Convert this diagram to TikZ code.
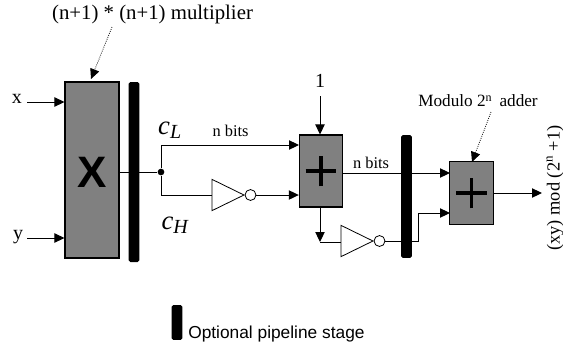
\documentclass[tikz,border=0pt]{standalone}
\usepackage{xcolor}
\usepackage{fontspec}
\setmainfont{Liberation Serif}
\setsansfont{Liberation Sans}
\usepackage{tikz}
\usetikzlibrary{arrows.meta,shapes.geometric}
\definecolor{BlockGray}{HTML}{808080}
\tikzset{
  block/.style={draw=black,fill=BlockGray,line width=0.8pt,inner sep=0pt},
  pipebar/.style={fill=black,rounded corners=1.2pt,inner sep=0pt,minimum width=8pt},
  wire/.style={line width=0.75pt,-{Triangle[length=7.5pt,width=7pt]}},
  plainwire/.style={line width=0.75pt},
  plusbar/.style={line width=2.6pt},
  noteline/.style={densely dotted,line width=0.6pt,-{Triangle[length=7.5pt,width=7pt]}},
  invgate/.style={draw=black,fill=white,line width=0.6pt,isosceles triangle,isosceles triangle stretches=true,minimum width=23.5pt,minimum height=24pt,inner sep=0pt,anchor=apex},
  invbubble/.style={draw=black,fill=white,line width=0.6pt,circle,minimum size=8.2pt,inner sep=0pt},
  junction/.style={fill=black,circle,minimum size=5pt,inner sep=0pt},
  lbl/.style={inner sep=0pt}
}
\begin{document}
\begin{tikzpicture}[x=0.75pt,y=-0.75pt]
\path[use as bounding box] (0,0) rectangle (563,354);
% blocks
\node[block,minimum width=40.5pt,minimum height=132pt] (mult) at (92,170) {};
\node[block,minimum width=32.5pt,minimum height=54pt] (addA) at (321,171) {};
\node[block,minimum width=32.5pt,minimum height=47pt] (addB) at (471.5,193) {};
\node[pipebar,minimum height=135pt] (barA) at (134,172) {};
\node[pipebar,minimum height=92pt] (barB) at (406.5,196.5) {};
\node[pipebar,minimum height=26pt] (barC) at (177,322.5) {};
\node[font=\sffamily\bfseries\fontsize{33}{33}\selectfont] (multX) at (92,172) {X};
\draw[plusbar] ([xshift=-11.5pt]addA.center) -- ([xshift=11.5pt]addA.center);
\draw[plusbar] ([yshift=-11.5pt]addA.center) -- ([yshift=11.5pt]addA.center);
\draw[plusbar] ([xshift=-11.5pt]addB.center) -- ([xshift=11.5pt]addB.center);
\draw[plusbar] ([yshift=-11.5pt]addB.center) -- ([yshift=11.5pt]addB.center);
% inverters
\node[invgate] (invA) at (245,195) {};
\node[invbubble] (bubA) at (250.5,195) {};
\node[invgate] (invB) at (374,241) {};
\node[invbubble] (bubB) at (379.5,241) {};
\node[junction] (dotA) at (161,172) {};
% labels
\node[lbl,font=\fontsize{15.6}{15.6}\selectfont] (multnote) at (152.5,14) {(n+1) * (n+1) multiplier};
\node[lbl,font=\fontsize{15}{15}\selectfont] (xin) at (17,99) {x};
\node[lbl,font=\fontsize{15}{15}\selectfont] (yin) at (18,237) {y};
\node[lbl,font=\fontsize{12.3}{12.3}\selectfont] (bitsA) at (230.5,131) {n bits};
\node[lbl,font=\fontsize{12.3}{12.3}\selectfont] (bitsB) at (371,163) {n bits};
\node[lbl,font=\fontsize{15}{15}\selectfont] (one) at (320,81) {1};
\node[lbl,font=\fontsize{12.9}{12.9}\selectfont] (addnote) at (478,101) {Modulo 2\textsuperscript{n}\, adder};
\node[lbl,font=\fontsize{20}{20}\selectfont\itshape] (cl) at (170,130) {c\textsubscript{\fontsize{15}{15}\selectfont L}};
\node[lbl,font=\fontsize{20}{20}\selectfont\itshape] (ch) at (175,225) {c\textsubscript{\fontsize{15}{15}\selectfont H}};
\node[lbl,rotate=90,font=\fontsize{13.8}{13.8}\selectfont] (result) at (555,188) {(xy) mod (2\textsuperscript{n} +1)};
\node[lbl,anchor=west,font=\sffamily\fontsize{13}{13}\selectfont] (legend) at (188,334) {Optional pipeline stage};
% free ends of the wires
\coordinate (xstart) at (27,102);
\coordinate (ystart) at (27,238);
\coordinate (multtail) at (112,27);
\coordinate (multtip) at (91,79);
\coordinate (addtail) at (491,112);
\coordinate (addtip) at (472,162);
\coordinate (clin) at (299,145);
\coordinate (onestart) at (320,96);
\coordinate (carrybend) at (320,242);
\coordinate (sumin) at (450,173);
\coordinate (invbend) at (418,241);
\coordinate (invin) at (450,213);
\coordinate (outend) at (542,193);
% connectors
\draw[wire] (xstart) -- (mult.west |- xstart);
\draw[wire] (ystart) -- (mult.west |- ystart);
\draw[noteline] (multtail) -- (multtip);
\draw[noteline] (addtail) -- (addtip);
\draw[plainwire] (mult.east |- dotA) -- (dotA);
\draw[wire] (dotA) -- (dotA |- clin) -- (clin);
\draw[plainwire] (dotA) -- (dotA |- invA.lower side) -- (invA.lower side);
\draw[wire] (bubA.east) -- (addA.west |- bubA);
\draw[wire] (onestart) -- (onestart |- addA.north);
\draw[plainwire] (addA.east |- sumin) -- (barB.west |- sumin);
\draw[wire] (barB.east |- sumin) -- (sumin);
\draw[wire] (carrybend |- addA.south) -- (carrybend);
\draw[plainwire] (carrybend) -- (invB.lower side |- carrybend);
\draw[plainwire] (bubB.east) -- (barB.west |- bubB);
\draw[wire] (barB.east |- bubB) -- (invbend) -- (invbend |- invin) -- (invin);
\draw[wire] (addB.east) -- (outend);
\end{tikzpicture}
\end{document}
